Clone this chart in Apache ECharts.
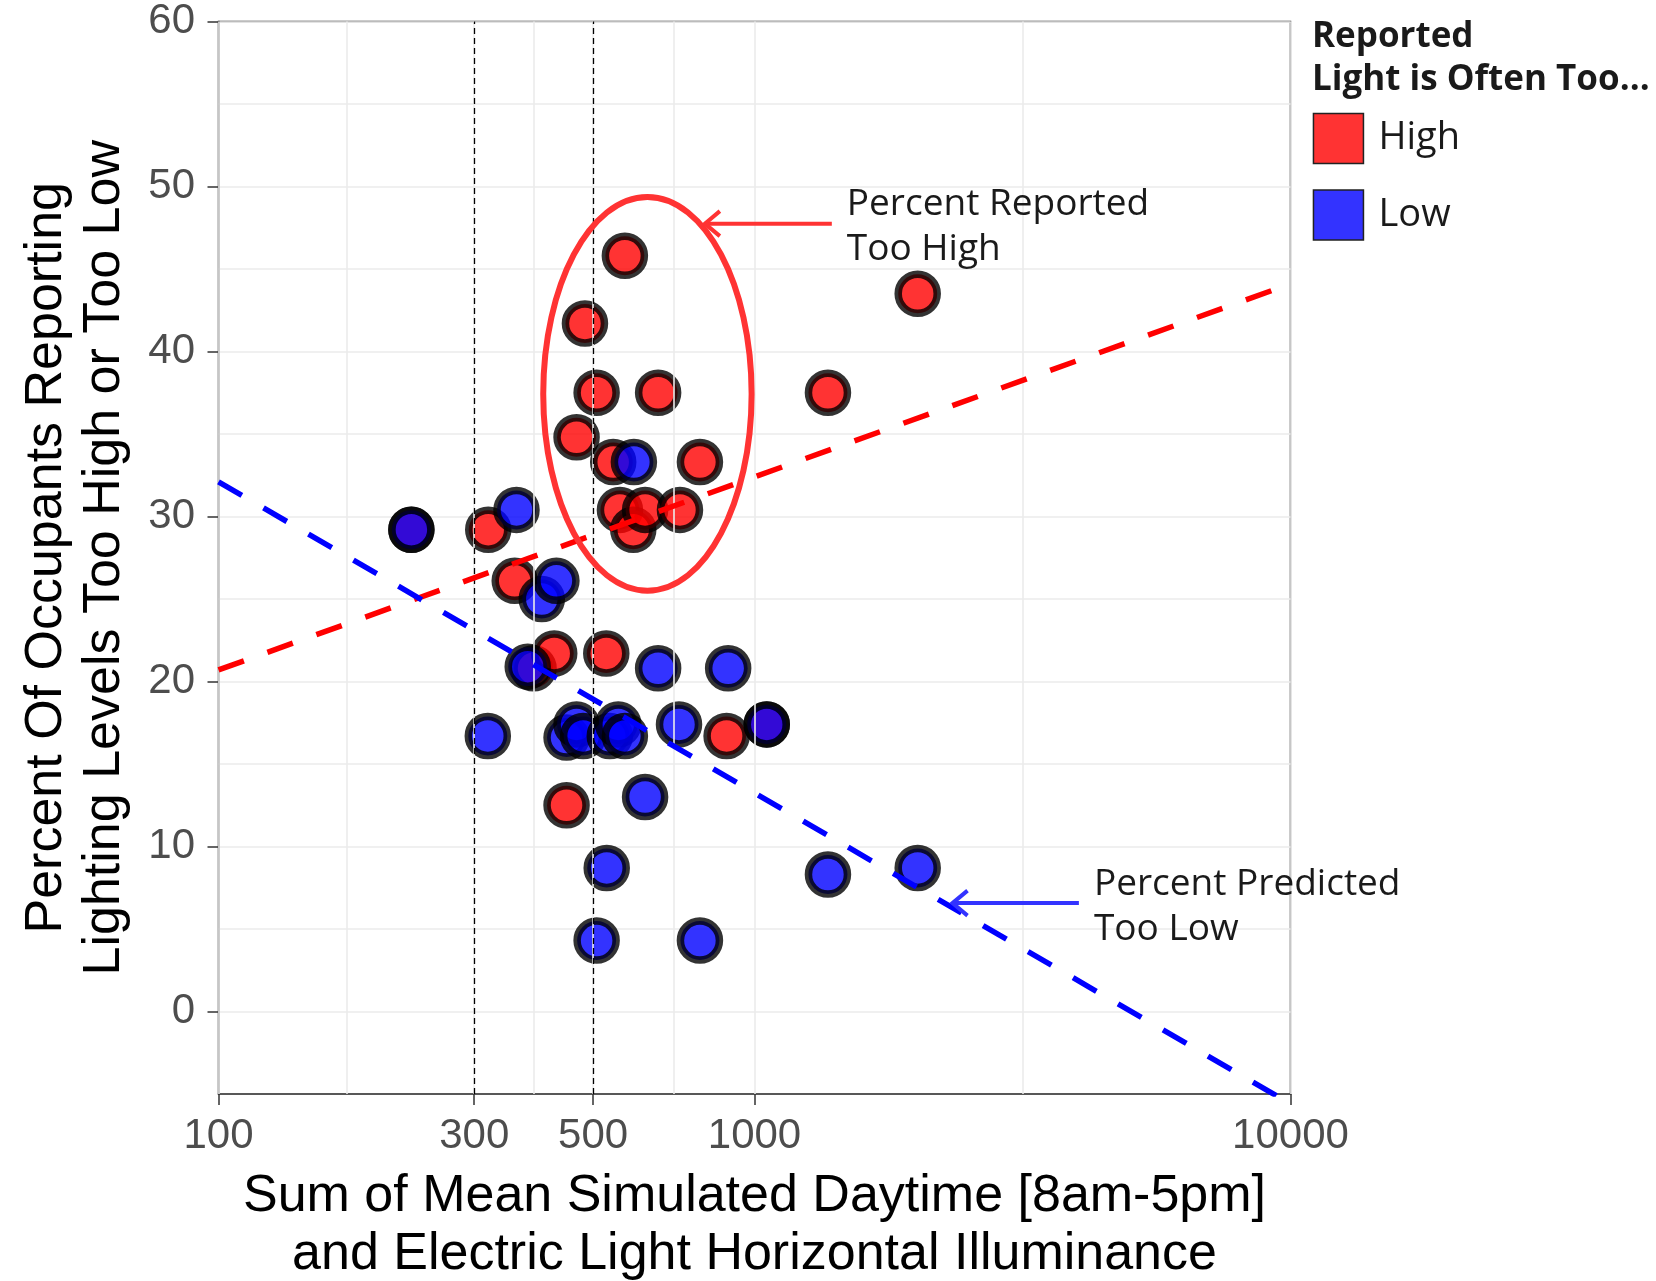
<!DOCTYPE html>
<html><head><meta charset="utf-8">
<script src="https://cdn.jsdelivr.net/npm/echarts@6/dist/echarts.min.js"></script>
<style>html,body{margin:0;padding:0;background:#fff}#c{width:1656px;height:1281px}</style>
</head><body><div id="c"></div>
<script>
// ---- data (illuminance in lux, percent of occupants) ----
const highX = [229, 318.6, 357, 387, 423, 446, 465.6, 482.7, 507.5, 529, 545, 561, 573, 594, 625, 661, 726, 791, 887, 1054, 1371, 2016];
const highY = [29.2, 29.2, 26.1, 20.8, 21.7, 12.5, 34.8, 41.7, 37.5, 21.7, 33.3, 30.4, 45.8, 29.2, 30.4, 37.5, 30.4, 33.3, 16.7, 17.4, 37.5, 43.5];
const lowX = [229, 318, 359.7, 377.5, 401, 427, 446, 465.6, 479, 507.5, 530, 537, 557, 573, 595.6, 625, 661, 723, 791, 893, 1054, 1371, 2016];
const lowY = [29.2, 16.7, 30.4, 20.9, 25.0, 26.1, 16.6, 17.4, 16.7, 4.3, 8.7, 16.7, 17.4, 16.7, 33.3, 13.0, 20.8, 17.4, 4.3, 20.8, 17.4, 8.3, 8.7];
const highFitX = [100, 10000], highFitY = [20.7, 44.1];
const lowFitX = [100, 10000], lowFitY = [32.1, -5.6];
const xTickValues = [100, 300, 500, 1000, 10000];
const xMinorGrid = [173.2, 387.3, 707.1, 3162.3];
const yTickValues = [0, 10, 20, 30, 40, 50, 60];
const refLines = [300, 500];
// annotation anchors (data space)
const ellipseBox = {x0: 403.5, x1: 987.7, y0: 25.5, y1: 49.36};
const redArrow = {tail: 1394, tip: 808, y: 47.75, text: ['Percent Reported', 'Too High']};
const blueArrow = {tail: 4029, tip: 2341, y: 6.57, text: ['Percent Predicted', 'Too Low']};

const chart = echarts.init(document.getElementById('c'), null, {renderer: 'canvas'});
const pair = (xs, ys) => xs.map((x, i) => [x, ys[i]]);
const gridColor = '#EBEBEB';
const tickFont = {fontFamily: 'Liberation Sans, Arial, sans-serif', fontSize: 42, color: '#4D4D4D'};
const titleFont = {fontFamily: 'Liberation Sans, Arial, sans-serif', fontSize: 52, lineHeight: 58, color: '#000'};
const annFont = 'Open Sans, Noto Sans, sans-serif';

chart.setOption({
  animation: false,
  backgroundColor: '#fff',
  grid: {left: 218.5, right: 365.5, top: 21.5, bottom: 187, show: true, borderColor: '#333', borderWidth: 1.5,
    containLabel: false, outerBoundsMode: 'none'},
  title: {text: 'Reported\nLight is Often Too...', left: 1312, top: 16, padding: 0,
    textStyle: {fontFamily: annFont, fontWeight: 'bold', fontSize: 35, lineHeight: 43, color: '#1a1a1a'}},
  legend: {orient: 'vertical', left: 1312.7, top: 112.7, padding: 0, itemWidth: 50, itemHeight: 50, itemGap: 25, icon: 'rect',
    selectedMode: false,
    textStyle: {fontFamily: annFont, fontSize: 38, color: '#1a1a1a', padding: [0, 0, 0, 10]},
    data: [
      {name: 'High', itemStyle: {color: '#FF3333', borderColor: '#222', borderWidth: 1.5, opacity: 1}},
      {name: 'Low', itemStyle: {color: '#3333FF', borderColor: '#222', borderWidth: 1.5, opacity: 1}}
    ]},
  xAxis: [{
    type: 'log', logBase: 10, min: 100, max: 10000,
    axisLine: {show: true, onZero: false, lineStyle: {color: '#333', width: 1.5}},
    axisTick: {show: true, length: 11, lineStyle: {color: '#333', width: 1.5}, customValues: xTickValues},
    axisLabel: Object.assign({margin: 21, customValues: xTickValues, formatter: v => String(Math.round(v))}, tickFont),
    splitLine: {show: false},
    name: 'Sum of Mean Simulated Daytime [8am-5pm]\nand Electric Light Horizontal Illuminance',
    nameLocation: 'middle', nameGap: 74, nameTextStyle: titleFont
  }],
  yAxis: [{
    type: 'value', min: -5, max: 60, interval: 5,
    axisLine: {show: true, onZero: false, lineStyle: {color: '#333', width: 1.5}},
    axisTick: {show: false}, axisLabel: {show: false},
    splitLine: {show: true, lineStyle: {color: gridColor, width: 1.6}}
  }, {
    type: 'value', min: -5, max: 60, position: 'left',
    axisLine: {show: false, onZero: false},
    axisTick: {show: true, length: 11, lineStyle: {color: '#333', width: 1.5}, customValues: yTickValues},
    axisLabel: Object.assign({margin: 23.5, customValues: yTickValues}, tickFont),
    splitLine: {show: false},
    name: 'Percent Of Occupants Reporting\nLighting Levels Too High or Too Low',
    nameLocation: 'middle', nameGap: 85, nameRotate: 90, nameTextStyle: titleFont
  }],
  series: [
    {type: 'line', name: 'grid', data: [], z: 1, silent: true,
      markLine: {silent: true, symbol: ['none', 'none'], label: {show: false}, animation: false,
        lineStyle: {color: gridColor, width: 1.6, type: 'solid'},
        data: xMinorGrid.concat(xTickValues).map(v => ({xAxis: v}))}},
    {type: 'scatter', name: 'High', data: pair(highX, highY), symbol: 'circle', symbolSize: 39, z: 3,
      itemStyle: {color: '#FF0000', borderColor: '#000', borderWidth: 7.5, opacity: 0.8}, emphasis: {disabled: true}},
    {type: 'scatter', name: 'Low', data: pair(lowX, lowY), symbol: 'circle', symbolSize: 39, z: 4,
      itemStyle: {color: '#0000FF', borderColor: '#000', borderWidth: 7.5, opacity: 0.8}, emphasis: {disabled: true}},
    {type: 'line', name: 'refs', data: [], z: 6, silent: true,
      markLine: {silent: true, symbol: ['none', 'none'], label: {show: false}, animation: false,
        lineStyle: {color: '#000', width: 1.3, type: [6, 4]},
        data: refLines.map(v => ({xAxis: v}))}},
    {type: 'line', name: 'fitHigh', data: pair(highFitX, highFitY), showSymbol: false, z: 7, silent: true, clip: true,
      lineStyle: {color: '#FF0000', width: 5.5, type: [27, 25]}},
    {type: 'line', name: 'fitLow', data: pair(lowFitX, lowFitY), showSymbol: false, z: 7, silent: true, clip: true,
      lineStyle: {color: '#0000FF', width: 5.5, type: [27, 25]}}
  ]
});

function px(x, y) { return chart.convertToPixel({xAxisIndex: 0, yAxisIndex: 0}, [x, y]); }
const g = [];
{
  const a = px(ellipseBox.x0, ellipseBox.y0), b = px(ellipseBox.x1, ellipseBox.y1);
  g.push({type: 'ellipse', z: 100, shape: {cx: (a[0] + b[0]) / 2, cy: (a[1] + b[1]) / 2, rx: Math.abs(b[0] - a[0]) / 2, ry: Math.abs(b[1] - a[1]) / 2},
    style: {fill: null, stroke: '#FF3333', lineWidth: 6}});
}
function arrow(def, color) {
  const t = px(def.tail, def.y), h = px(def.tip, def.y);
  g.push({type: 'polyline', z: 100, shape: {points: [t, h]}, style: {stroke: color, lineWidth: 4, fill: null}});
  g.push({type: 'polyline', z: 100, shape: {points: [[h[0] + 15, h[1] - 12.5], h, [h[0] + 15, h[1] + 12.5]]}, style: {stroke: color, lineWidth: 4, fill: null}});
  def.text.forEach((s, i) => g.push({type: 'text', z: 100, x: t[0] + 15, y: h[1] + (i === 0 ? -19 : 26),
    style: {text: s, fontFamily: annFont, fontSize: 37, fill: '#1a1a1a', verticalAlign: 'middle', align: 'left'}}));
}
arrow(redArrow, '#FF3333');
arrow(blueArrow, '#3333FF');
chart.setOption({graphic: g});
</script></body></html>
